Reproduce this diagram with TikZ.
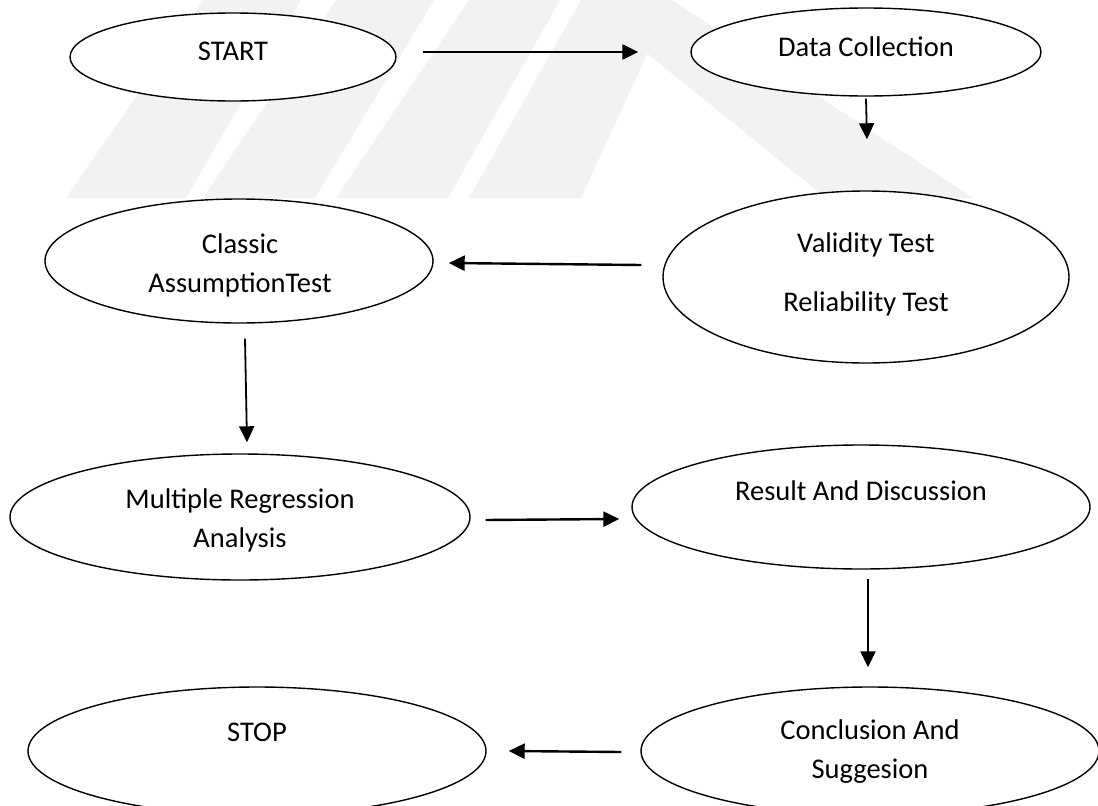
\documentclass[tikz,border=0pt]{standalone}
\usepackage{fontspec}
\setmainfont{Carlito}
\usetikzlibrary{arrows.meta,shapes.geometric}
\begin{document}
\begin{tikzpicture}[x=1pt,y=-1pt,
  proc/.style={ellipse, draw=black, line width=1.4pt, fill=white, inner sep=0pt},
  lbl/.style={font=\fontsize{28.5}{39}\selectfont, align=center, inner sep=0pt},
  arr/.style={line width=2.4pt, -{Triangle[length=16pt,width=15pt]}},
  varr/.style={line width=1.8pt, -{Triangle[length=16pt,width=15pt]}},
  wm/.style={fill=black!5, draw=none}]
\useasboundingbox (0,0) rectangle (1098,806);
\clip (0,0) rectangle (1098,806);
\fill[white] (0,0) rectangle (1098,806);
% faint watermark
\fill[wm] (66,198) -- (186,198) -- (301,0) -- (203,0) -- cycle;
\fill[wm] (203,198) -- (315,198) -- (434,0) -- (336,0) -- cycle;
\fill[wm] (336,198) -- (448,198) -- (560,0) -- (469,0) -- cycle;
\fill[wm] (469,198) -- (581,198) -- (672,0) -- (581,0) -- cycle;
\fill[wm] (581,0) -- (672,0) -- (973,198) -- (826,198) -- cycle;
% shapes
\node[proc, minimum width=326pt, minimum height=88pt]  (start)   at (233,57)  {};
\node[proc, minimum width=350pt, minimum height=88pt]  (dc)      at (866,52)  {};
\node[proc, minimum width=388pt, minimum height=124pt] (classic) at (239,261) {};
\node[proc, minimum width=406pt, minimum height=172pt] (val)     at (866,277) {};
\node[proc, minimum width=460pt, minimum height=126pt] (mra)     at (240,517) {};
\node[proc, minimum width=458pt, minimum height=124pt] (res)     at (861,507) {};
\node[proc, minimum width=458pt, minimum height=128pt] (stop)    at (257,751) {};
\node[proc, minimum width=458pt, minimum height=128pt] (conc)    at (870,751) {};
% texts
\node[lbl] (startT)   at (233,51)    {START};
\node[lbl] (dcT)      at (866,47)    {Data Collection};
\node[lbl] (classicT) at (240,265)   {Classic\\AssumptionTest};
\node[lbl] (valT)     at (866,274)   {Validity Test\\[20pt]Reliability Test};
\node[lbl] (mraT)     at (240,520)   {Multiple Regression\\Analysis};
\node[lbl] (resT)     at (861,491)   {Result And Discussion};
\node[lbl] (stopT)    at (257,732)   {STOP};
\node[lbl] (concT)    at (870,752)   {Conclusion And\\Suggesion};
% connectors
\draw[arr]  ([xshift=26pt,yshift=5pt]start.east) -- ([xshift=-52pt]dc.west);
\draw[varr] ([yshift=-2pt]dc.south) -- ([xshift=1pt,yshift=51pt]val.north);
\draw[arr]  ([xshift=-21pt,yshift=12pt]val.west) -- ([xshift=15pt,yshift=-2pt]classic.east);
\draw[varr] ([xshift=6pt,yshift=-15pt]classic.south) -- ([xshift=7pt,yshift=11pt]mra.north);
\draw[arr]  ([xshift=15pt,yshift=-3pt]mra.east) -- ([xshift=-12pt,yshift=-12pt]res.west);
\draw[varr] ([xshift=7pt,yshift=-9pt]res.south) -- ([xshift=-2pt,yshift=19pt]conc.north);
\draw[arr]  ([xshift=-19pt,yshift=-1pt]conc.west) -- ([xshift=22pt]stop.east);
\end{tikzpicture}
\end{document}
